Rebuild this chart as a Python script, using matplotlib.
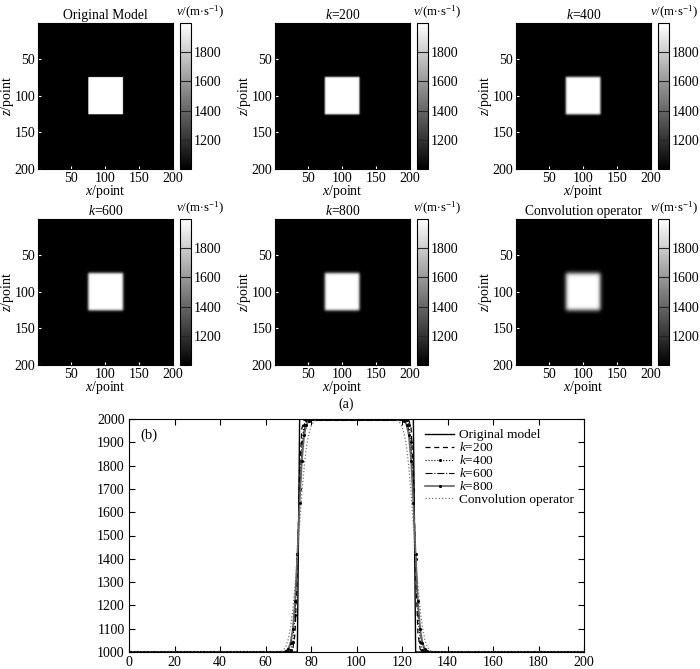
import numpy as np
import matplotlib
matplotlib.use('Agg')
import matplotlib.pyplot as plt

plt.rcParams['font.family'] = ['Liberation Serif', 'DejaVu Serif']
plt.rcParams['mathtext.fontset'] = 'custom'
plt.rcParams['mathtext.rm'] = 'Liberation Serif'
plt.rcParams['mathtext.it'] = 'Liberation Serif:italic'
plt.rcParams['font.size'] = 10

# sample positions along the profile
x_points = np.arange(0, 201)
# left edge window of the square (right edge is the mirror image, x -> 200 - x)
ramp_x = list(range(64, 87))

ramp_original = [1000, 1000, 1000, 1000, 1000, 1000, 1000, 1000, 1000, 1000, 1000,
                 2000, 2000, 2000, 2000, 2000, 2000, 2000, 2000, 2000, 2000, 2000, 2000]
ramp_k200 = [1000, 1000, 1000, 1000, 1000, 1000, 1000, 1000,
             1012, 1080, 1350, 1780, 1960, 1995,
             2000, 2000, 2000, 2000, 2000, 2000, 2000, 2000, 2000]
ramp_k400 = [1000, 1000, 1000, 1000, 1000, 1000, 1000,
             1010, 1045, 1160, 1400, 1700, 1900, 1975, 1996,
             2000, 2000, 2000, 2000, 2000, 2000, 2000, 2000]
ramp_k600 = [1000, 1000, 1000, 1000, 1000, 1000,
             1008, 1030, 1085, 1200, 1410, 1660, 1850, 1950, 1988,
             2000, 2000, 2000, 2000, 2000, 2000, 2000, 2000]
ramp_k800 = [1000, 1000, 1000, 1000, 1000,
             1005, 1015, 1040, 1100, 1220, 1420, 1640, 1820, 1930, 1975, 1992,
             2000, 2000, 2000, 2000, 2000, 2000, 2000]
ramp_conv = [1000, 1000, 1000, 1003, 1010, 1025, 1055, 1105, 1180, 1285, 1410, 1545,
             1680, 1795, 1880, 1935, 1968, 1985, 1994, 1998, 2000, 2000, 2000]

panel_titles = ['Original Model', r'$k$=200', r'$k$=400',
                r'$k$=600', r'$k$=800', 'Convolution operator']
legend_labels = ['Original model', r'$k$=200', r'$k$=400',
                 r'$k$=600', r'$k$=800', 'Convolution operator']
ramps = [ramp_original, ramp_k200, ramp_k400, ramp_k600, ramp_k800, ramp_conv]


def build_profile(ramp):
    prof = np.full(x_points.size, 2000.0)
    prof[x_points < ramp_x[0]] = 1000
    prof[x_points > 200 - ramp_x[0]] = 1000
    for xi, v in zip(ramp_x, ramp):
        prof[xi] = v
        prof[200 - xi] = v
    return prof


profiles = [build_profile(r) for r in ramps]

W, H = 700, 669
fig = plt.figure(figsize=(7, 6.69), dpi=100)


def px_rect(left, top, width, height):
    return [left / W, 1 - (top + height) / H, width / W, height / H]


col_left = [38, 275, 516]
row_top = [23, 219]
img_w, img_h = 135, 146

for i, (title, prof) in enumerate(zip(panel_titles, profiles)):
    r, c = divmod(i, 3)
    ax = fig.add_axes(px_rect(col_left[c], row_top[r], img_w, img_h))
    p = prof[1:201] - 1000
    field = 1000 + np.outer(p, p) / 1000
    im = ax.imshow(field, cmap='gray', vmin=1000, vmax=2000,
                   extent=[0.5, 200.5, 200.5, 0.5], aspect='auto',
                   interpolation='bilinear')
    ax.set_xticks([50, 100, 150, 200])
    ax.set_yticks([50, 100, 150, 200])
    ax.tick_params(direction='in', length=2, color='white', labelsize=10, pad=2)
    ax.set_xlabel(r'$x$/point', labelpad=-1)
    ax.set_ylabel(r'$z$/point', labelpad=-1)
    ax.set_title(title, fontsize=9.8, pad=3)

    cb_left = col_left[c] + img_w + 7
    cax = fig.add_axes(px_rect(cb_left, row_top[r], 11, img_h))
    cb = fig.colorbar(im, cax=cax)
    cb.set_ticks([1200, 1400, 1600, 1800])
    cb.ax.tick_params(direction='in', length=8, width=0.8, color='0.15',
                      labelsize=10, pad=2)
    cb.outline.set_linewidth(0.8)
    if c < 2:
        fig.text((cb_left - 4) / W, 1 - (row_top[r] - 11) / H,
                 r'$v$/(m$\cdot$s$^{-1}$)', fontsize=9.3, ha='left', va='center')
    else:
        fig.text((W - 2) / W, 1 - (row_top[r] - 11) / H,
                 r'$v$/(m$\cdot$s$^{-1}$)', fontsize=9.3, ha='right', va='center')

fig.text(346 / W, 1 - 404 / H, '(a)', fontsize=10, ha='center', va='center')

# profile comparison
ax = fig.add_axes(px_rect(129, 419, 455, 233))
styles = [
    dict(color='black', lw=1.0, ls='-'),
    dict(color='black', lw=0.9, ls=(0, (4, 3))),
    dict(color='black', lw=0.8, ls=':', marker='.', ms=2.5),
    dict(color='black', lw=0.8, ls='-.'),
    dict(color='0.4', lw=1.2, ls='-', marker='.', ms=2.5, mfc='black', mec='black'),
    dict(color='0.45', lw=0.9, ls=':'),
]
for prof, lab, st in zip(profiles, legend_labels, styles):
    ax.plot(x_points, prof, label=lab, **st)

ax.set_xlim(0, 200)
ax.set_ylim(1000, 2000)
ax.set_xticks(np.arange(0, 201, 20))
ax.set_yticks(np.arange(1000, 2001, 100))
ax.tick_params(direction='in', top=True, right=True, length=4, labelsize=10, pad=3)
ax.text(0.025, 0.96, '(b)', transform=ax.transAxes, fontsize=10.5, va='top')
ax.legend(loc='upper right', frameon=False, fontsize=9.6, handlelength=2.2,
          handletextpad=0.35, labelspacing=0.0, borderaxespad=0.35)

fig.savefig('out.png', dpi=100)
